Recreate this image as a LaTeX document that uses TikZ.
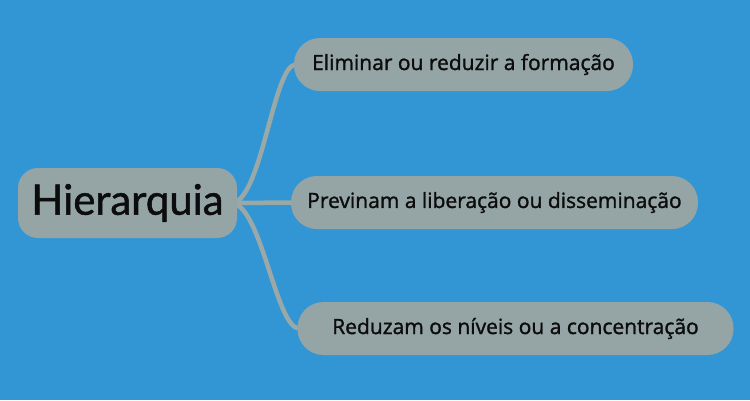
\documentclass[tikz,border=0pt]{standalone}
\usepackage{fontspec}
\newfontfamily\hubfont{Lato}[FakeBold=1.2]
\newfontfamily\leaffont{Open Sans}[FakeBold=1.4]
\usetikzlibrary{backgrounds}
\definecolor{bgblue}{RGB}{50,150,212}
\definecolor{nodegrey}{RGB}{149,165,166}
\definecolor{linkgrey}{RGB}{154,168,168}
\definecolor{inktext}{RGB}{12,12,12}
\tikzset{
  hub/.style={fill=nodegrey, rounded corners=20pt, minimum width=219pt, minimum height=70pt, inner sep=0pt, text=inktext, font=\hubfont\fontsize{42}{48}\selectfont},
  leaf/.style={fill=nodegrey, rounded corners=26pt, minimum height=53pt, inner sep=0pt, text=inktext, font=\leaffont\fontsize{21}{24}\selectfont},
  link/.style={draw=linkgrey, line width=4.5pt, line cap=round}
}
\begin{document}
\begin{tikzpicture}[x=1pt,y=-1pt]
\useasboundingbox (0,0) rectangle (750,400);
\node[hub] (c) at (127.5,203) {Hierarquia};
\node[leaf, minimum width=339pt] (a) at (463.5,64.5) {Eliminar ou reduzir a formação};
\node[leaf, minimum width=407pt] (b) at (494.5,202.5) {Previnam a liberação ou disseminação};
\node[leaf, minimum width=436pt] (d) at (515.5,328.5) {Reduzam os níveis ou a concentração};
\begin{scope}[on background layer]
\fill[bgblue] (0,0) rectangle (750,400);
\draw[link] ([xshift=-4pt]c.east) .. controls +(29,-7) and +(-22,0) .. ([xshift=2pt]a.west);
\draw[link] ([xshift=-4pt]c.east) -- ([xshift=2pt]b.west);
\draw[link] ([xshift=-4pt]c.east) .. controls +(29,7) and +(-23,0) .. ([xshift=2pt]d.west);
\end{scope}
\end{tikzpicture}
\end{document}
